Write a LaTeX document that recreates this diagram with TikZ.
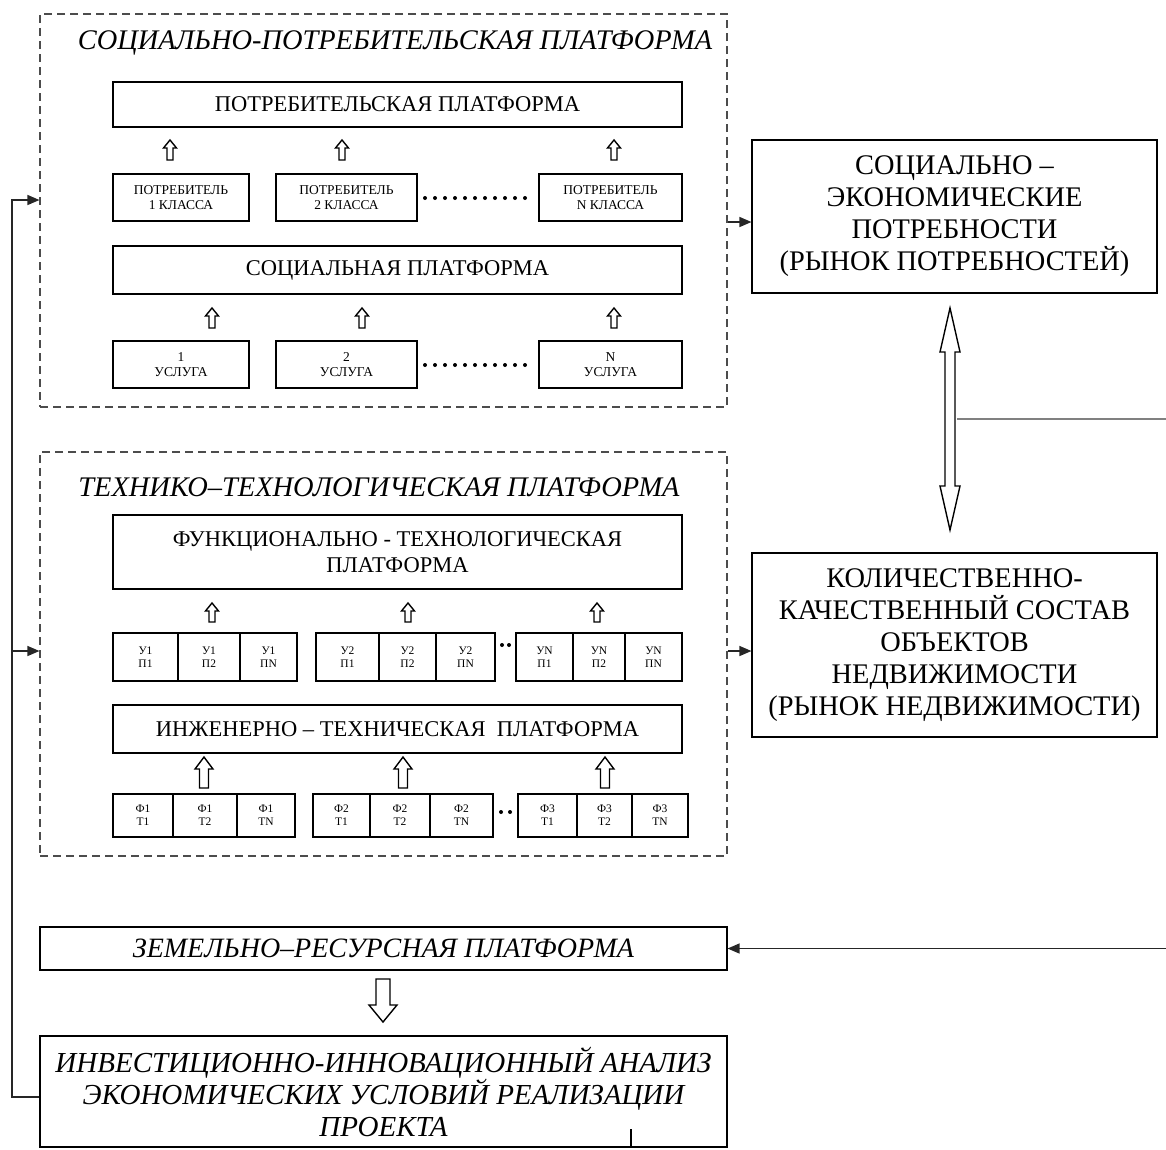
\documentclass[tikz,border=0pt]{standalone}
\usepackage{fontspec}
\setmainfont{Liberation Serif}
\usetikzlibrary{arrows.meta}
\newcommand{\hup}[6]{%
  \draw[harrow] (#1,#2) -- (#1+#4,#2+#6) -- (#1+#5,#2+#6) -- (#1+#5,#3) -- (#1-#5,#3) -- (#1-#5,#2+#6) -- (#1-#4,#2+#6) -- cycle;}
\newcommand{\dotrow}[4]{%
  \foreach \k in {0,...,#3}{\fill (#1+\k*#4,#2) circle (2);}}
\newcommand{\rbox}[7]{%
  \node[#6,minimum width={(#4-#2)*1pt},minimum height={(#5-#3)*1pt}] (#1) at ({(#2+#4)/2},{(#3+#5)/2}) {#7};}
\begin{document}
\begin{tikzpicture}[x=1pt,y=-1pt,
  box/.style={draw=black,line width=1.1pt,inner sep=0pt,align=center},
  dbox/.style={draw=black!70,line width=1.1pt,dash pattern=on 8pt off 5pt,inner sep=0pt},
  harrow/.style={draw=black,line width=1.4pt,fill=white,line join=miter},
  conn/.style={draw=black!85,line width=1.3pt,-{Triangle[length=12pt,width=10pt]}},
  ttl/.style={font=\itshape\fontsize{28.4}{30}\selectfont,inner sep=0pt},
  mid/.style={font=\fontsize{22.5}{26}\selectfont},
  tiny/.style={font=\fontsize{13.5}{15}\selectfont},
  cell/.style={font=\fontsize{11.5}{13}\selectfont},
  big/.style={font=\fontsize{28.4}{32}\selectfont},
]
\useasboundingbox (0,0) rectangle (1166,1149);

% ---- block 1
\rbox{SP}{40}{14}{727}{407}{dbox}{}
\node[ttl] (SPt) at (395,43) {СОЦИАЛЬНО-ПОТРЕБИТЕЛЬСКАЯ ПЛАТФОРМА};
\rbox{P}{113}{82}{682}{127}{box,mid}{ПОТРЕБИТЕЛЬСКАЯ ПЛАТФОРМА}
\hup{170}{140}{160}{6.5}{3}{8}
\hup{342}{140}{160}{6.5}{3}{8}
\hup{614}{140}{160}{6.5}{3}{8}
\rbox{C1}{113}{174}{249}{221}{box,tiny}{ПОТРЕБИТЕЛЬ\\1 КЛАССА}
\rbox{C2}{276}{174}{417}{221}{box,tiny}{ПОТРЕБИТЕЛЬ\\2 КЛАССА}
\rbox{C3}{539}{174}{682}{221}{box,tiny}{ПОТРЕБИТЕЛЬ\\N КЛАССА}
\dotrow{425}{198}{10}{10}
\rbox{S}{113}{246}{682}{294}{box,mid}{СОЦИАЛЬНАЯ ПЛАТФОРМА}
\hup{212}{308}{328}{6.5}{3}{8}
\hup{362}{308}{328}{6.5}{3}{8}
\hup{614}{308}{328}{6.5}{3}{8}
\rbox{U1}{113}{341}{249}{388}{box,tiny}{1\\УСЛУГА}
\rbox{U2}{276}{341}{417}{388}{box,tiny}{2\\УСЛУГА}
\rbox{U3}{539}{341}{682}{388}{box,tiny}{N\\УСЛУГА}
\dotrow{425}{365}{10}{10}

% ---- block 2
\rbox{TT}{40}{452}{727}{856}{dbox}{}
\node[ttl] (TTt) at (379,487) {ТЕХНИКО–ТЕХНОЛОГИЧЕСКАЯ ПЛАТФОРМА};
\rbox{F}{113}{515}{682}{589}{box,mid}{ФУНКЦИОНАЛЬНО - ТЕХНОЛОГИЧЕСКАЯ\\ПЛАТФОРМА}
\hup{212}{603}{622}{6.5}{3}{8}
\hup{408}{603}{622}{6.5}{3}{8}
\hup{597}{603}{622}{6.5}{3}{8}
\foreach \xa/\xb/\t/\n in {113/178/{У1\\П1}/a1,178/240/{У1\\П2}/a2,240/297/{У1\\ПN}/a3,
  316/379/{У2\\П1}/b1,379/436/{У2\\П2}/b2,436/495/{У2\\ПN}/b3,
  516/573/{УN\\П1}/c1,573/625/{УN\\П2}/c2,625/682/{УN\\ПN}/c3}
  {\rbox{g\n}{\xa}{633}{\xb}{681}{box,cell}{\t}}
\dotrow{502}{645}{1}{7}
\rbox{IT}{113}{705}{682}{753}{box,mid}{ИНЖЕНЕРНО – ТЕХНИЧЕСКАЯ \ ПЛАТФОРМА}
\hup{204}{757}{788}{9}{4.5}{12}
\hup{403}{757}{788}{9}{4.5}{12}
\hup{605}{757}{788}{9}{4.5}{12}
\foreach \xa/\xb/\t/\n in {113/173/{Ф1\\Т1}/a1,173/237/{Ф1\\Т2}/a2,237/295/{Ф1\\ТN}/a3,
  313/370/{Ф2\\Т1}/b1,370/430/{Ф2\\Т2}/b2,430/493/{Ф2\\ТN}/b3,
  518/577/{Ф3\\Т1}/c1,577/632/{Ф3\\Т2}/c2,632/688/{Ф3\\ТN}/c3}
  {\rbox{h\n}{\xa}{794}{\xb}{837}{box,cell}{\t}}
\dotrow{501}{812}{1}{9}

% ---- right boxes
\rbox{R1}{752}{140}{1157}{293}{box,big}{СОЦИАЛЬНО –\\ЭКОНОМИЧЕСКИЕ\\ПОТРЕБНОСТИ\\(РЫНОК ПОТРЕБНОСТЕЙ)}
\rbox{R2}{752}{553}{1157}{737}{box,big}{КОЛИЧЕСТВЕННО-\\КАЧЕСТВЕННЫЙ СОСТАВ\\ОБЪЕКТОВ\\НЕДВИЖИМОСТИ\\(РЫНОК НЕДВИЖИМОСТИ)}
\coordinate (a1) at (0,222);
\coordinate (a2) at (0,651);
\draw[conn] (SP.east |- a1) -- (R1.west |- a1);
\draw[conn] (TT.east |- a2) -- (R2.west |- a2);

% double arrow
\draw[harrow] (950,308) -- (960,352) -- (955,352) -- (955,486) -- (960,486) -- (950,530)
  -- (940,486) -- (945,486) -- (945,352) -- (940,352) -- cycle;
\coordinate (rr) at (1166,419);
\draw[black!50,line width=2pt] (957,419) -- (rr);

% ---- bottom
\rbox{Z}{40}{927}{727}{970}{box,font=\itshape\fontsize{28}{30}\selectfont}{ЗЕМЕЛЬНО–РЕСУРСНАЯ ПЛАТФОРМА}
\coordinate (zr) at (1166,950);
\draw[conn] (Z.east -| zr) -- (Z.east);
\draw[harrow] (376,979) -- (390,979) -- (390,1005) -- (397,1005) -- (383,1022) -- (369,1005) -- (376,1005) -- cycle;
\rbox{INV}{40}{1036}{727}{1147}{box,font=\itshape\fontsize{29}{32}\selectfont}{ИНВЕСТИЦИОННО-ИННОВАЦИОННЫЙ АНАЛИЗ\\ЭКОНОМИЧЕСКИХ УСЛОВИЙ РЕАЛИЗАЦИИ\\ПРОЕКТА}
\draw[black,line width=1.6pt] (631,1129) -- (631,1147);

% ---- left feedback line
\coordinate (l1) at (12,1097);
\coordinate (l2) at (12,200);
\coordinate (l3) at (12,651);
\draw[conn] (INV.west |- l1) -- (l1) -- (l2) -- (SP.west |- l2);
\draw[conn] (l3) -- (TT.west |- l3);
\end{tikzpicture}
\end{document}
